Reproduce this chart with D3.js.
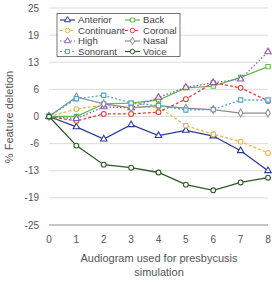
<!DOCTYPE html>
<html>
<head>
<meta charset="utf-8">
<script src="https://cdn.jsdelivr.net/npm/d3@7"></script>
<style>
  body { margin: 0; background: #fff; }
  text { font-family: "Liberation Sans", Arial, sans-serif; }
</style>
</head>
<body>
<svg id="chart" width="272" height="282"></svg>
<script>
// audiogram index on x
var audiograms = [0, 1, 2, 3, 4, 5, 6, 7, 8];
var yTicks = [-25, -18.75, -12.5, -6.25, 0, 6.25, 12.5, 18.75, 25];

var anterior   = [0, -2.4, -5.2, -1.9, -4.4, -3.2, -4.5, -7.9, -12.5];
var back       = [0, 0, 2.9, 3.1, 3.8, 6.6, 7.0, 9.0, 11.5];
var continuant = [0, 1.7, 2.7, 2.1, 2.2, -2.1, -4.1, -5.8, -8.4];
var coronal    = [0, -1.0, 0.6, 0.6, 1.0, 4.0, 7.8, 6.6, 3.6];
var high       = [0, -0.5, 2.2, 2.0, 4.4, 6.7, 7.8, 8.6, 14.9];
var nasal      = [0, 4.5, 2.9, 2.0, 2.5, 1.9, 1.6, 0.8, 0.8];
var sonorant   = [0, 4.1, 4.9, 3.1, 2.5, 1.5, 1.6, 3.8, 3.8];
var voice      = [0, -6.7, -11.1, -11.8, -12.9, -15.7, -17.0, -15.2, -14.1];

var series = [
  { name: "Anterior",   values: anterior,   color: "#2b3a9a", dash: null,  sym: d3.symbolTriangle },
  { name: "Back",       values: back,       color: "#62bd4e", dash: null,  sym: d3.symbolSquare },
  { name: "Continuant", values: continuant, color: "#f2b34a", dash: "3,2", sym: d3.symbolCircle },
  { name: "Coronal",    values: coronal,    color: "#e0403a", dash: "3,2", sym: d3.symbolCircle },
  { name: "High",       values: high,       color: "#8a5bb4", dash: "1.5,2", sym: d3.symbolTriangle },
  { name: "Nasal",      values: nasal,      color: "#8e8e8e", dash: null,  sym: d3.symbolDiamond },
  { name: "Sonorant",   values: sonorant,   color: "#4ea6cc", dash: "2,2", sym: d3.symbolSquare },
  { name: "Voice",      values: voice,      color: "#2d5a26", dash: null,  sym: d3.symbolCircle }
];

var svg = d3.select("#chart");
var plotL = 49, plotR = 268, plotT = 8, plotB = 225;

var x = d3.scaleLinear().domain([0, 8]).range([plotL, plotR]);
var y = d3.scaleLinear().domain([-25, 25]).range([plotB, plotT]);

// grid
svg.append("g").selectAll("line").data(yTicks).enter().append("line")
  .attr("x1", plotL).attr("x2", plotR)
  .attr("y1", d => y(d)).attr("y2", d => y(d))
  .attr("stroke", d => d === -25 ? "#8a8a8a" : "#dcdcdc")
  .attr("stroke-width", 1);

// y labels (rounded half away from zero, like the source)
svg.append("g").selectAll("text").data(yTicks).enter().append("text")
  .attr("x", 39).attr("y", d => y(d) + 3.5)
  .attr("text-anchor", "end")
  .attr("font-size", 10).attr("fill", "#555")
  .text(d => Math.sign(d) * Math.round(Math.abs(d)));

// x labels
svg.append("g").selectAll("text").data(audiograms).enter().append("text")
  .attr("x", d => x(d)).attr("y", 243)
  .attr("text-anchor", "middle")
  .attr("font-size", 10).attr("fill", "#555")
  .text(d => d);

svg.append("text").attr("x", 159).attr("y", 262).attr("text-anchor", "middle")
  .attr("font-size", 11).attr("fill", "#555").text("Audiogram used for presbycusis");
svg.append("text").attr("x", 159).attr("y", 276).attr("text-anchor", "middle")
  .attr("font-size", 11).attr("fill", "#555").text("simulation");

svg.append("text").attr("transform", "translate(13,117) rotate(-90)")
  .attr("text-anchor", "middle")
  .attr("font-size", 11).attr("fill", "#555").text("% Feature deletion");

var line = d3.line().x((d, i) => x(audiograms[i])).y(d => y(d));

series.forEach(s => {
  var g = svg.append("g");
  g.append("path").datum(s.values)
    .attr("d", line)
    .attr("fill", "none").attr("stroke", s.color).attr("stroke-width", 1.3)
    .attr("stroke-dasharray", s.dash);
  g.selectAll("path.m").data(s.values).enter().append("path")
    .attr("class", "m")
    .attr("transform", (d, i) => "translate(" + x(audiograms[i]) + "," + y(d) + ")")
    .attr("d", d3.symbol().type(s.sym).size(18))
    .attr("fill", "#fff").attr("stroke", s.color).attr("stroke-width", 1.1);
});

// legend
var leg = svg.append("g");
leg.append("rect").attr("x", 57).attr("y", 13.5).attr("width", 123).attr("height", 43)
  .attr("fill", "#fff").attr("stroke", "#555").attr("stroke-width", 0.8);

series.forEach((s, i) => {
  var col = i % 2, row = Math.floor(i / 2);
  var lx = col === 0 ? 60 : 125;
  var ly = 20 + row * 10.5;
  var g = leg.append("g");
  g.append("line").attr("x1", lx).attr("x2", lx + 15).attr("y1", ly).attr("y2", ly)
    .attr("stroke", s.color).attr("stroke-width", 1.2).attr("stroke-dasharray", s.dash);
  g.append("path").attr("transform", "translate(" + (lx + 7.5) + "," + ly + ")")
    .attr("d", d3.symbol().type(s.sym).size(16))
    .attr("fill", "#fff").attr("stroke", s.color).attr("stroke-width", 1);
  g.append("text").attr("x", lx + 18).attr("y", ly + 3.3)
    .attr("font-size", 9.6).attr("fill", "#444").text(s.name);
});
</script>
</body>
</html>
